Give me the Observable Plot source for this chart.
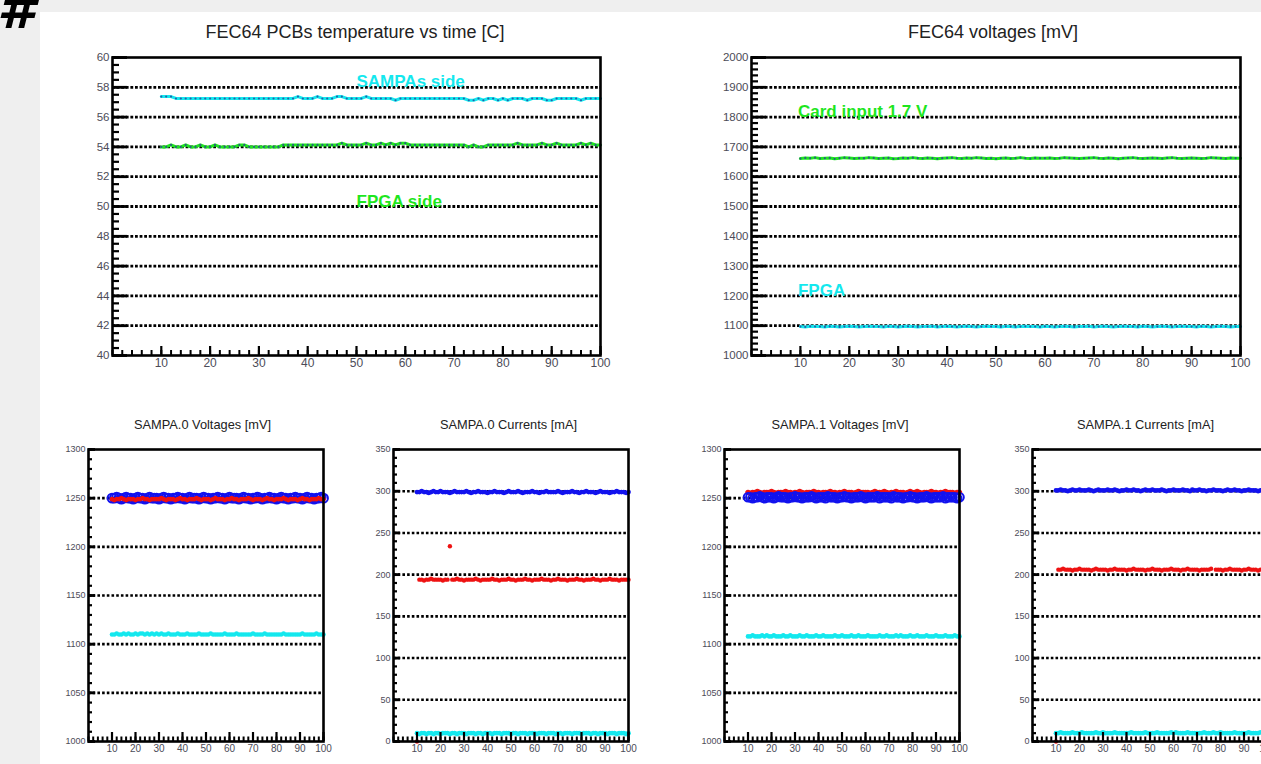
<!DOCTYPE html>
<html>
<head>
<meta charset="utf-8">
<script src="https://cdn.jsdelivr.net/npm/d3@7"></script>
<script src="https://cdn.jsdelivr.net/npm/@observablehq/plot@0.6"></script>
<style>
html, body { margin: 0; padding: 0; width: 1261px; height: 764px; overflow: hidden; background: #efefef; font-family: "Liberation Sans", Arial, sans-serif; }
#sheet { position: absolute; left: 40px; top: 12px; width: 1221px; height: 752px; background: #ffffff; }
#hash { position: absolute; left: -3px; top: -22px; font: italic 900 54px "DejaVu Sans", sans-serif; color: #000; }
.title { position: absolute; white-space: nowrap; color: #222; transform: translateX(-50%); line-height: 1; }
.title.big { font-size: 18px; }
.title.small { font-size: 12.8px; }
svg.plotpanel { position: absolute; overflow: visible; }
</style>
</head>
<body>
<div id="hash">#</div>
<div id="sheet"></div>
<script>
// ---------------- data ----------------
const time = d3.range(10, 101); // sample index 10..100

// FEC64 PCBs temperature [C]
const tempSampas = [
57.38,57.38,57.38,57.25,57.25,57.25,57.25,57.25,57.25,57.25,
57.25,57.25,57.25,57.25,57.25,57.25,57.25,57.25,57.25,57.25,
57.25,57.25,57.25,57.25,57.25,57.25,57.25,57.25,57.38,57.25,
57.25,57.25,57.38,57.25,57.25,57.25,57.38,57.38,57.25,57.25,
57.25,57.25,57.38,57.25,57.25,57.25,57.25,57.25,57.13,57.25,
57.25,57.25,57.25,57.25,57.25,57.25,57.25,57.25,57.25,57.25,
57.25,57.25,57.25,57.13,57.13,57.25,57.13,57.25,57.25,57.13,
57.25,57.13,57.25,57.25,57.25,57.13,57.25,57.25,57.25,57.13,
57.13,57.25,57.25,57.25,57.25,57.25,57.13,57.25,57.25,57.25,
57.25];
const tempFpga = [
54.0,54.0,54.13,54.0,54.0,54.13,54.0,54.0,54.13,54.0,
54.0,54.13,54.0,54.0,54.0,54.0,54.13,54.13,54.0,54.0,
54.0,54.0,54.0,54.0,54.0,54.13,54.13,54.13,54.13,54.13,
54.13,54.13,54.13,54.13,54.13,54.13,54.13,54.25,54.13,54.13,
54.13,54.13,54.25,54.13,54.13,54.25,54.13,54.25,54.13,54.25,
54.25,54.13,54.13,54.13,54.13,54.13,54.13,54.13,54.13,54.13,
54.13,54.13,54.13,54.0,54.13,54.0,54.0,54.13,54.13,54.13,
54.13,54.13,54.13,54.25,54.13,54.13,54.13,54.13,54.25,54.13,
54.13,54.25,54.13,54.13,54.13,54.13,54.25,54.13,54.25,54.13,
54.13];
const tempLabelSampas = [{text: "SAMPAs side", t: 50, v: 58}];
const tempLabelFpga = [{text: "FPGA side", t: 50, v: 50}];

// FEC64 voltages [mV]
const voltCard = [
1661,1663,1662,1664,1661,1662,1663,1660,1662,1664,
1663,1661,1662,1662,1664,1663,1661,1662,1663,1660,
1661,1663,1662,1664,1662,1661,1663,1662,1660,1662,
1663,1664,1662,1661,1663,1662,1664,1663,1661,1662,
1660,1662,1663,1661,1662,1664,1662,1661,1663,1662,
1662,1663,1661,1662,1664,1663,1662,1661,1662,1663,
1664,1662,1661,1663,1662,1660,1662,1663,1664,1662,
1661,1662,1663,1662,1661,1663,1664,1662,1661,1662,
1663,1662,1661,1662,1664,1663,1662,1661,1663,1662,1662];
const voltFpga = [
1097,1096,1098,1097,1097,1096,1098,1097,1096,1097,
1098,1097,1096,1097,1098,1097,1097,1096,1098,1097,
1096,1097,1098,1097,1096,1097,1097,1098,1096,1097,
1098,1097,1096,1097,1098,1097,1096,1097,1098,1097,
1097,1096,1098,1097,1096,1097,1098,1097,1097,1096,
1098,1097,1096,1097,1098,1097,1096,1097,1097,1098,
1096,1097,1098,1097,1096,1097,1098,1097,1097,1096,
1098,1097,1096,1097,1098,1097,1096,1097,1098,1097,
1097,1096,1098,1097,1096,1097,1098,1097,1096,1097,1097];
const voltLabelCard = [{text: "Card input 1.7 V", t: 9.5, v: 1800}];
const voltLabelFpga = [{text: "FPGA", t: 9.5, v: 1200}];

// SAMPA.0 voltages [mV]
const s0VBlue = [
1250,1250,1251,1250,1249,1250,1251,1250,1250,1249,
1250,1251,1250,1250,1249,1250,1251,1250,1250,1250,
1249,1250,1251,1250,1250,1249,1250,1250,1251,1250,
1250,1249,1250,1251,1250,1250,1250,1249,1250,1251,
1250,1250,1249,1250,1250,1251,1250,1250,1249,1250,
1251,1250,1250,1250,1249,1250,1251,1250,1250,1249,
1250,1250,1251,1250,1249,1250,1250,1251,1250,1250,
1249,1250,1251,1250,1250,1249,1250,1250,1251,1250,
1250,1249,1250,1251,1250,1250,1249,1250,1250,1251,1250];
const s0VRed = [
1249,1248,1249,1249,1250,1249,1248,1249,1249,1249,
1248,1249,1249,1250,1249,1249,1248,1249,1249,1249,
1249,1250,1249,1248,1249,1249,1249,1248,1249,1250,
1249,1249,1248,1249,1249,1249,1250,1249,1248,1249,
1249,1249,1248,1249,1250,1249,1249,1249,1248,1249,
1249,1250,1249,1249,1248,1249,1249,1249,1250,1249,
1248,1249,1249,1249,1248,1249,1250,1249,1249,1248,
1249,1249,1249,1250,1249,1248,1249,1249,1249,1248,
1249,1250,1249,1249,1248,1249,1249,1249,1250,1249,1249];
const s0VCyan = [
1110,1110,1111,1110,1110,1111,1110,1111,1110,1110,
1111,1110,1111,1111,1110,1111,1110,1111,1110,1111,
1110,1111,1110,1110,1111,1110,1110,1110,1111,1110,
1110,1110,1111,1110,1110,1110,1110,1111,1110,1110,
1110,1110,1111,1110,1110,1110,1110,1110,1111,1110,
1110,1110,1110,1111,1110,1110,1110,1110,1110,1110,
1111,1110,1110,1110,1110,1111,1110,1110,1110,1110,
1110,1110,1110,1111,1110,1110,1110,1110,1110,1110,
1110,1111,1110,1110,1110,1110,1110,1111,1110,1110,1110];

// SAMPA.0 currents [mA]
const s0IBlue = [
299,299,300,299,299,298,299,300,299,299,
300,299,299,299,298,299,300,299,299,299,
299,300,299,298,299,299,300,299,299,299,
298,299,299,300,299,299,299,298,299,300,
299,299,299,300,299,298,299,299,299,300,
299,299,298,299,299,300,299,299,299,299,
300,299,298,299,299,299,300,299,299,298,
299,299,300,299,299,299,298,299,300,299,
299,299,298,299,299,300,299,299,299,298,299];
const s0IRed = [
0,194,194,193,194,194,195,194,194,194,
194,193,194,194,234,194,194,195,194,194,
193,194,194,194,194,195,194,193,194,194,
194,194,195,194,194,193,194,194,194,195,
194,194,193,194,194,194,195,194,194,193,
194,194,194,195,194,194,194,193,194,194,
195,194,194,194,193,194,194,194,195,194,
194,193,194,194,194,195,194,194,193,194,
194,194,195,194,194,194,193,194,194,194,194];
const s0ICyan = [
10,9,10,10,9,10,10,9,10,10,
9,10,10,10,9,10,10,9,10,10,
10,9,10,10,10,9,10,10,9,10,
10,10,9,10,10,10,9,10,10,10,
9,10,10,9,10,10,10,9,10,10,
10,9,10,10,10,9,10,10,10,9,
10,10,9,10,10,10,9,10,10,10,
9,10,10,10,9,10,10,9,10,10,
10,9,10,10,10,9,10,10,10,9,10];

// SAMPA.1 voltages [mV]
const s1VRed = [
1256,1255,1256,1256,1257,1256,1255,1256,1256,1256,
1257,1256,1255,1256,1256,1256,1257,1256,1256,1255,
1256,1256,1257,1256,1255,1256,1256,1256,1257,1256,
1256,1255,1256,1256,1256,1257,1256,1256,1255,1256,
1256,1257,1256,1256,1256,1255,1256,1257,1256,1256,
1256,1256,1255,1256,1257,1256,1256,1256,1257,1256,
1255,1256,1256,1257,1256,1256,1256,1255,1256,1257,
1256,1256,1257,1256,1255,1256,1256,1256,1257,1256,
1256,1255,1256,1256,1257,1256,1256,1256,1255,1256,1256];
const s1VBlue = [
1251,1251,1250,1251,1251,1252,1251,1250,1251,1251,
1251,1250,1251,1252,1251,1251,1251,1250,1251,1251,
1252,1251,1251,1250,1251,1251,1251,1252,1251,1250,
1251,1251,1251,1250,1252,1251,1251,1251,1250,1251,
1251,1252,1251,1251,1250,1251,1251,1251,1252,1251,
1250,1251,1251,1251,1251,1252,1250,1251,1251,1251,
1251,1250,1252,1251,1251,1251,1250,1251,1251,1252,
1251,1251,1250,1251,1251,1251,1252,1251,1250,1251,
1251,1251,1251,1252,1250,1251,1251,1251,1251,1250,1251];
const s1VCyan = [
1108,1108,1109,1108,1108,1108,1109,1108,1109,1108,
1108,1109,1108,1108,1108,1109,1108,1108,1109,1108,
1108,1108,1109,1108,1108,1109,1108,1108,1108,1109,
1108,1108,1109,1108,1108,1108,1108,1109,1108,1108,
1109,1108,1108,1108,1109,1108,1108,1109,1108,1108,
1108,1109,1108,1108,1108,1108,1109,1108,1108,1109,
1108,1108,1108,1109,1108,1109,1108,1108,1108,1109,
1108,1108,1109,1108,1108,1108,1109,1108,1108,1108,
1109,1108,1108,1108,1109,1108,1108,1108,1109,1108,1108];

// SAMPA.1 currents [mA]
const s1IBlue = [
301,301,302,301,301,300,301,302,301,301,
302,301,301,301,302,301,300,301,302,301,
301,301,302,301,301,302,301,300,301,301,
302,301,301,302,301,301,300,301,302,301,
301,302,301,301,301,302,301,300,301,301,
302,301,301,301,302,301,301,300,302,301,
301,302,301,301,300,301,301,302,301,301,
301,300,301,302,301,301,302,301,301,300,
301,301,302,301,301,301,300,301,302,301,301];
const s1IRed = [
0,206,206,207,206,206,206,205,206,206,
207,206,206,206,206,205,206,207,206,206,
206,206,205,206,206,207,206,206,206,206,
205,206,206,207,206,206,206,206,205,206,
206,207,206,206,206,205,206,206,206,207,
206,206,206,205,206,206,207,206,206,206,
206,205,206,206,206,206,207,null,206,206,
206,205,206,206,207,206,206,206,206,205,
206,206,207,206,206,206,205,206,206,206,206];
const s1ICyan = [
10,10,11,10,10,10,10,11,10,10,
10,11,10,10,10,10,10,11,10,10,
11,10,10,10,10,11,10,10,10,10,
10,10,11,10,10,10,10,10,11,10,
10,10,10,11,10,10,10,10,10,11,
10,11,10,10,10,10,11,10,10,10,
10,10,10,11,10,10,10,11,10,10,
11,10,10,10,10,10,11,10,10,10,
10,10,11,10,10,10,10,11,10,10,10];

// axis ticks / labels
const xTickLabels = [10,20,30,40,50,60,70,80,90,100];
const tempTicks = [40,42,44,46,48,50,52,54,56,58,60];
const tempGrid = [42,44,46,48,50,52,54,56,58];
const voltTicks = [1000,1100,1200,1300,1400,1500,1600,1700,1800,1900,2000];
const voltGrid = [1100,1200,1300,1400,1500,1600,1700,1800,1900];
const sampaVTicks = [1000,1050,1100,1150,1200,1250,1300];
const sampaVGrid = [1050,1100,1150,1200,1250];
const sampaITicks = [0,50,100,150,200,250,300,350];
const sampaIGrid = [50,100,150,200,250,300];

// ---------------- styling ----------------
const CYAN = "#14e8ee", GREEN = "#1ee61e", BLUE = "#1212ee", RED = "#ee1212";
const MARKER = "#2a3c9c";
const FONT = "'Liberation Sans', Arial, Helvetica, sans-serif";

function addTitle(text, cx, top, cls) {
  const d = document.createElement("div");
  d.className = "title " + cls;
  d.textContent = text;
  d.style.left = cx + "px";
  d.style.top = top + "px";
  document.body.appendChild(d);
}

function panel(cfg) {
  const {x0, y0, fw, fh, ml = 60, mt = 14, mr = 30, mb = 30, yDomain, yTicks, yMinorStep, yGrid, big, marks} = cfg;
  const yMinor = d3.range(yDomain[0], yDomain[1] + yMinorStep / 2, yMinorStep);
  const xMinor = d3.range(0, 101, 2);
  const yMajLen = big ? 15 : 7, yMinLen = big ? 7 : 4;
  const xMajLen = 9, xMinLen = big ? 5 : 4.5;
  const chart = Plot.plot({
    width: ml + fw + mr,
    height: mt + fh + mb,
    marginLeft: ml, marginRight: mr, marginTop: mt, marginBottom: mb,
    x: {domain: [0, 100]},
    y: {domain: yDomain},
    style: {background: "transparent", fontFamily: FONT, overflow: "visible"},
    marks: [
      Plot.ruleY(yGrid, {stroke: "#000", strokeWidth: big ? 2.8 : 2.6, strokeDasharray: big ? "2.8,1.8" : "2.6,2.1"}),
      ...marks,
      Plot.tickY(yMinor, {y: d => d, insetRight: fw - yMinLen, stroke: "#000", strokeWidth: 2.2}),
      Plot.tickY(yTicks, {y: d => d, insetRight: fw - yMajLen, stroke: "#000", strokeWidth: 2.8}),
      Plot.tickX(xMinor, {x: d => d, insetTop: fh - xMinLen, stroke: "#000", strokeWidth: 2}),
      Plot.tickX(xTickLabels, {x: d => d, insetTop: fh - xMajLen, stroke: "#000", strokeWidth: 2.2}),
      Plot.frame({stroke: "#000", strokeWidth: 2.6}),
      Plot.axisY(yTicks, {tickSize: 0, tickPadding: 3, label: null, fontSize: big ? 11.5 : 9, color: "#4c4c58", tickFormat: d => String(d)}),
      Plot.axisX(xTickLabels, {tickSize: 0, tickPadding: 3, label: null, fontSize: big ? 12 : 10, color: "#4c4c58", tickFormat: d => String(d)})
    ]
  });
  chart.classList.add("plotpanel");
  chart.style.left = (x0 - ml) + "px";
  chart.style.top = (y0 - mt) + "px";
  document.body.appendChild(chart);
}

function lineWithMarkers(values, color) {
  return [
    Plot.lineY(values, {x: time, stroke: color, strokeWidth: 3}),
    Plot.dot(values, {x: time, y: d => d, r: 1.1, fill: MARKER, fillOpacity: 0.8})
  ];
}
function band(values, color, r) {
  return Plot.dot(values, {x: time, y: d => d, r, fill: color});
}
function ring(values, color, r) {
  return Plot.dot(values, {x: time, y: d => d, r, stroke: color, strokeWidth: 2, fill: "none"});
}
function label(data, color) {
  return Plot.text(data, {x: "t", y: "v", text: "text", fill: color, fontSize: 17, fontWeight: "bold", textAnchor: "start", lineAnchor: "bottom"});
}

// ---------------- panels ----------------
addTitle("FEC64 PCBs temperature vs time [C]", 355, 23, "big");
panel({x0: 112, y0: 57, fw: 488, fh: 298, big: true,
  yDomain: [40, 60], yTicks: tempTicks, yMinorStep: 0.5, yGrid: tempGrid,
  marks: [
    ...lineWithMarkers(tempSampas, CYAN),
    ...lineWithMarkers(tempFpga, GREEN),
    label(tempLabelSampas, CYAN),
    label(tempLabelFpga, GREEN)
  ]});

addTitle("FEC64 voltages [mV]", 993, 23, "big");
panel({x0: 751, y0: 57, fw: 489, fh: 298, big: true,
  yDomain: [1000, 2000], yTicks: voltTicks, yMinorStep: 20, yGrid: voltGrid,
  marks: [
    ...lineWithMarkers(voltCard, GREEN),
    ...lineWithMarkers(voltFpga, CYAN),
    label(voltLabelCard, GREEN),
    label(voltLabelFpga, CYAN)
  ]});

addTitle("SAMPA.0 Voltages [mV]", 202.5, 418.5, "small");
panel({x0: 88, y0: 449, fw: 235, fh: 292, ml: 45, mt: 10, mr: 20, mb: 22,
  yDomain: [1000, 1300], yTicks: sampaVTicks, yMinorStep: 10, yGrid: sampaVGrid,
  marks: [ring(s0VBlue, BLUE, 4.4), band(s0VRed, RED, 2.3), band(s0VCyan, CYAN, 2.3)]});

addTitle("SAMPA.0 Currents [mA]", 508.5, 418.5, "small");
panel({x0: 393, y0: 449, fw: 235, fh: 292, ml: 45, mt: 10, mr: 20, mb: 22,
  yDomain: [0, 350], yTicks: sampaITicks, yMinorStep: 10, yGrid: sampaIGrid,
  marks: [band(s0IBlue, BLUE, 2.4), band(s0IRed, RED, 2.2), band(s0ICyan, CYAN, 2.4)]});

addTitle("SAMPA.1 Voltages [mV]", 840, 418.5, "small");
panel({x0: 724, y0: 449, fw: 235, fh: 292, ml: 45, mt: 10, mr: 20, mb: 22,
  yDomain: [1000, 1300], yTicks: sampaVTicks, yMinorStep: 10, yGrid: sampaVGrid,
  marks: [band(s1VRed, RED, 2.7), ring(s1VBlue, BLUE, 4.3), band(s1VCyan, CYAN, 2.3)]});

addTitle("SAMPA.1 Currents [mA]", 1145.5, 418.5, "small");
panel({x0: 1032, y0: 449, fw: 235, fh: 292, ml: 45, mt: 10, mr: 20, mb: 22,
  yDomain: [0, 350], yTicks: sampaITicks, yMinorStep: 10, yGrid: sampaIGrid,
  marks: [band(s1IBlue, BLUE, 2.4), band(s1IRed, RED, 2.2), band(s1ICyan, CYAN, 2.4)]});
</script>
</body>
</html>
